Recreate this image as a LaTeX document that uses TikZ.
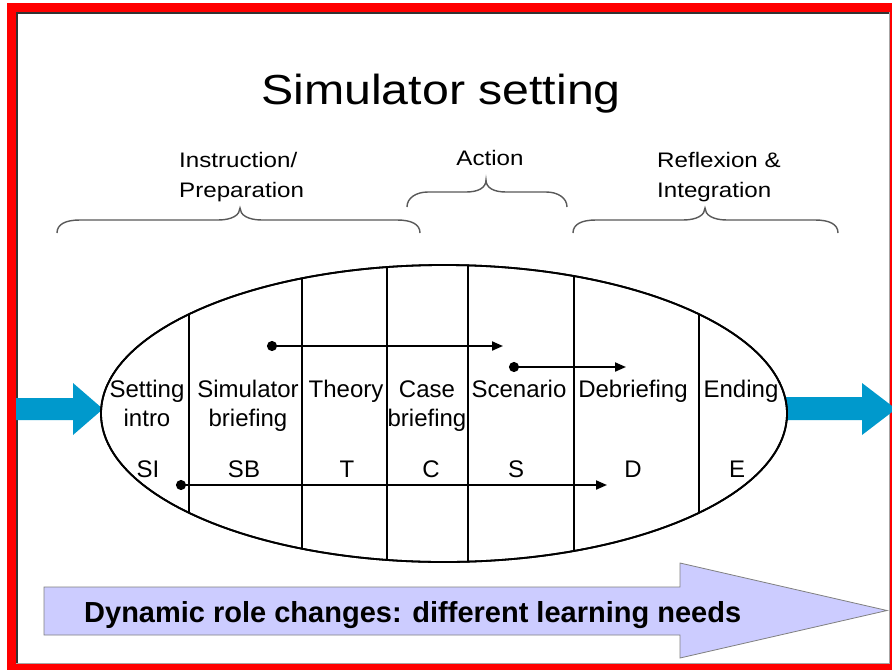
\documentclass[tikz,border=0pt]{standalone}
\usepackage{fontspec}
\setmainfont{Liberation Sans}
\newfontfamily\widesans[FakeStretch=1.15]{Liberation Sans}
\usetikzlibrary{arrows.meta,shapes.geometric}

\definecolor{framered}{RGB}{255,0,0}
\definecolor{flowblue}{RGB}{0,153,204}
\definecolor{rolefill}{RGB}{204,204,255}

\begin{document}
\begin{tikzpicture}[x=1pt,y=-1pt,
  stagelabel/.style={font=\fontsize{24}{29}\selectfont, align=center, anchor=base, inner sep=0pt},
  abbrev/.style={font=\fontsize{24}{29}\selectfont, anchor=base, inner sep=0pt},
  phase/.style={font=\widesans\fontsize{21}{30}\selectfont, align=left, anchor=base west, inner sep=0pt},
  bracket/.style={draw=black!65, line width=1.4pt},
  divider/.style={line width=1.8pt},
  flowline/.style={line width=2pt, {Circle[length=10pt]}-{Triangle[length=11pt,width=9pt]}},
  blockarrow/.style={fill=flowblue},
]
\useasboundingbox (0,0) rectangle (892,670);

% page frame
\fill[white] (0,0) rectangle (892,670);
\fill[framered] (7,3) rectangle (892,670);
\fill[white] (16,12) rectangle (890,664);
\draw[black!80, line width=1.5pt] (16.75,664) -- (16.75,12.75) -- (890,12.75);
\draw[black!35, line width=1pt] (889.5,12) -- (889.5,663.5) -- (16,663.5);

% title
\node[font=\widesans\fontsize{42}{50}\selectfont, anchor=base, inner sep=0pt] (title) at (441,104) {Simulator setting};

% phase headings (multi-line nodes sit on the baseline of their last line)
\node[phase] (prep) at (179,197) {Instruction/\\Preparation};
\node[phase, anchor=base] (action) at (490,165) {Action};
\node[phase] (reflex) at (657,197) {Reflexion \&\\Integration};

% braces under the headings
\draw[bracket] (57,233) .. controls (57,224) and (66,220) .. (80,220) -- (218,220)
  .. controls (232,220) and (240,215) .. (240,208)
  .. controls (240,215) and (248,220) .. (262,220) -- (397,220)
  .. controls (411,220) and (420,224) .. (420,233);
\draw[bracket] (407,207) .. controls (407,198) and (416,192) .. (428,192) -- (466,192)
  .. controls (478,192) and (486,188) .. (486,180)
  .. controls (486,188) and (494,192) .. (506,192) -- (546,192)
  .. controls (558,192) and (567,198) .. (567,207);
\draw[bracket] (573,233) .. controls (573,224) and (582,220) .. (596,220) -- (683,220)
  .. controls (697,220) and (705,215) .. (705,208)
  .. controls (705,215) and (713,220) .. (727,220) -- (815,220)
  .. controls (829,220) and (838,224) .. (838,233);

% in/out flow arrows
\fill[blockarrow] (16,398) -- (73,398) -- (73,383) -- (103,409) -- (73,435) -- (73,420) -- (16,420) -- cycle;
\fill[blockarrow] (780,397) -- (862,397) -- (862,383) -- (896,409) -- (862,435) -- (862,420) -- (780,420) -- cycle;

% the session
\node[ellipse, draw, fill=white, line width=1.8pt, inner sep=0pt,
      minimum width=686, minimum height=297] (stage) at (444,413.5) {};
\begin{scope}
  \clip (444,413.5) ellipse [x radius=343, y radius=148.5];
  \foreach \x in {189,302,387,468,574,699}
    \draw[divider] (\x,250) -- (\x,580);
\end{scope}
\draw[line width=1.8pt] (444,413.5) ellipse [x radius=343, y radius=148.5];

% stage names
\node[stagelabel] (si) at (147,426) {Setting\\intro};
\node[stagelabel] (sb) at (248,426) {Simulator\\briefing};
\node[stagelabel] (th) at (346,397) {Theory};
\node[stagelabel] (ca) at (427,426) {Case\\briefing};
\node[stagelabel] (sc) at (519,397) {Scenario};
\node[stagelabel] (de) at (633,397) {Debriefing};
\node[stagelabel] (en) at (741,397) {Ending};

% abbreviations
\node[abbrev] (aSI) at (148,477) {SI};
\node[abbrev] (aSB) at (244,477) {SB};
\node[abbrev] (aT) at (347,477) {T};
\node[abbrev] (aC) at (431,477) {C};
\node[abbrev] (aS) at (516,477) {S};
\node[abbrev] (aD) at (633,477) {D};
\node[abbrev] (aE) at (737,477) {E};

% spans across stages
\coordinate (p1) at (267,346);
\coordinate (q1) at (503,346);
\coordinate (p2) at (509,367);
\coordinate (q2) at (626,367);
\coordinate (p3) at (176,485);
\coordinate (q3) at (607,485);
\draw[flowline] (p1) -- (q1);
\draw[flowline] (p2) -- (q2);
\draw[flowline] (p3) -- (q3);

% role change arrow
\draw[fill=rolefill, draw=black!50, line width=0.8pt]
  (44,587) -- (680,587) -- (680,563) -- (887,610.5) -- (680,658) -- (680,635) -- (44,635) -- cycle;
\node[font=\bfseries\fontsize{29}{35}\selectfont, anchor=base west, inner sep=0pt] (roles) at (84,622)
  {Dynamic role changes: different learning needs};
\end{tikzpicture}
\end{document}
